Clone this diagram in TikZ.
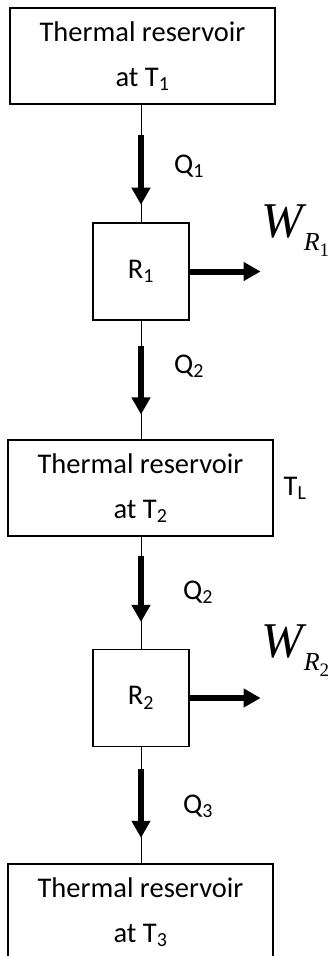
\documentclass[tikz,border=0pt]{standalone}
\usepackage{fontspec}
\setmainfont{Carlito}
\newfontfamily\tnrfont{Liberation Serif}
\usetikzlibrary{arrows.meta,calc}

% work done by an engine, W_{R_i}
\newcommand{\worklabel}[1]{{\tnrfont\itshape\fontsize{50}{50}\selectfont W\kern1pt\raisebox{-13pt}{\fontsize{26}{26}\selectfont R\raisebox{-6pt}{\upshape\fontsize{19}{19}\selectfont #1}}}}

\tikzset{
  reservoir/.style={draw, line width=1.2pt, minimum width=265pt, minimum height=96pt,
    inner sep=0pt, align=center, font={\fontsize{28.5}{45}\selectfont}},
  engine/.style={draw, line width=1.2pt, minimum width=96pt, minimum height=97pt,
    inner sep=0pt, font={\fontsize{28.5}{45}\selectfont}},
  link/.style={line width=1pt},
  heat/.style={line width=6pt, -{Triangle[length=17pt,width=18pt]}},
  lbl/.style={inner sep=0pt, font={\fontsize{28.5}{32}\selectfont}}
}

\begin{document}
\begin{tikzpicture}[x=1pt, y=-1pt]
  \useasboundingbox (0,0) rectangle (328,956);

  % boxes
  \node[reservoir] (res1) at (142.5,56) {Thermal reservoir\\at T\textsubscript{1}};
  \node[engine] (r1) at (141,271.5) {R\textsubscript{1}};
  \node[reservoir] (res2) at (140.5,488) {Thermal reservoir\\at T\textsubscript{2}};
  \node[engine] (r2) at (141,698) {R\textsubscript{2}};
  \node[reservoir] (res3) at (140.5,912) {Thermal reservoir\\at T\textsubscript{3}};

  % thin links between boxes
  \draw[link] (res1.south -| r1.north) -- (r1.north);
  \draw[link] (r1.south) -- (r1.south |- res2.north);
  \draw[link] (res2.south -| r2.north) -- (r2.north);
  \draw[link] (r2.south) -- (r2.south |- res3.north);

  % heat flows
  \coordinate (q1s) at ($(res1.south -| r1.north)!0.26!(r1.north)$);
  \coordinate (q1e) at ($(res1.south -| r1.north)!0.85!(r1.north)$);
  \coordinate (q2s) at ($(r1.south)!0.21!(r1.south |- res2.north)$);
  \coordinate (q2e) at ($(r1.south)!0.79!(r1.south |- res2.north)$);
  \coordinate (q3s) at ($(res2.south -| r2.north)!0.17!(r2.north)$);
  \coordinate (q3e) at ($(res2.south -| r2.north)!0.76!(r2.north)$);
  \coordinate (q4s) at ($(r2.south)!0.19!(r2.south |- res3.north)$);
  \coordinate (q4e) at ($(r2.south)!0.78!(r2.south |- res3.north)$);
  \draw[heat] (q1s) -- (q1e);
  \draw[heat] (q2s) -- (q2e);
  \draw[heat] (q3s) -- (q3e);
  \draw[heat] (q4s) -- (q4e);

  % work out
  \coordinate (w1end) at ($(r1.east)+(71,0)$);
  \coordinate (w2end) at ($(r2.east)+(71,0)$);
  \draw[heat] (r1.east) -- (w1end);
  \draw[heat] (r2.east) -- (w2end);

  % labels
  \node[lbl] (lq1) at (189,166) {Q\textsubscript{1}};
  \node[lbl] (lq2) at (189,366) {Q\textsubscript{2}};
  \node[lbl] (lq3) at (198,592) {Q\textsubscript{2}};
  \node[lbl] (lq4) at (198,806) {Q\textsubscript{3}};
  \node[lbl] (ltl) at (295,488) {T\textsubscript{L}};
  \node[inner sep=0pt, anchor=base west] (lw1) at (261,237) {\worklabel{1}};
  \node[inner sep=0pt, anchor=base west] (lw2) at (261,657) {\worklabel{2}};
\end{tikzpicture}
\end{document}
